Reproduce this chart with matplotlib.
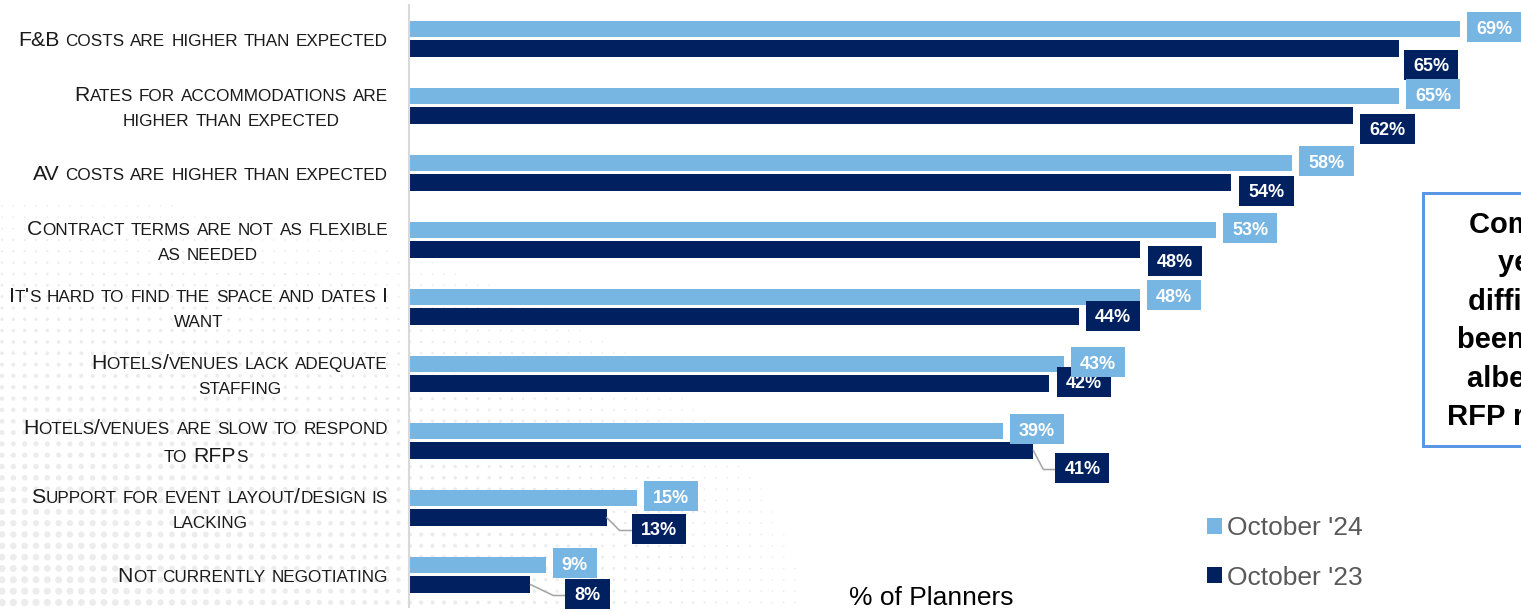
import math
import numpy as np
import matplotlib
matplotlib.use('Agg')
import matplotlib.pyplot as plt
from matplotlib.offsetbox import TextArea, HPacker, VPacker, AnnotationBbox
from matplotlib.patches import Rectangle, Patch
from matplotlib.path import Path

plt.rcParams['font.family'] = ['Liberation Sans', 'DejaVu Sans']

# data
categories = [
    'F&B costs are higher than expected',
    'Rates for accommodations are\nhigher than expected',
    'AV costs are higher than expected',
    'Contract terms are not as flexible\nas needed',
    "It's hard to find the space and dates I\nwant",
    'Hotels/venues lack adequate\nstaffing',
    'Hotels/venues are slow to respond\nto RFPs',
    'Support for event layout/design is\nlacking',
    'Not currently negotiating',
]
oct_24 = [69, 65, 58, 53, 48, 43, 39, 15, 9]
oct_23 = [65, 62, 54, 48, 44, 42, 41, 13, 8]
series_names = ["October '24", "October '23"]
xlabel = '% of Planners'
note_lines = ['Compared to last', 'year, negotiating', 'difficulties have',
              'been easing,', 'albeit with slower', 'RFP responses.']

# layout (pixels)
W, H = 1521, 612
PX = 72 / 100  # points per pixel
dark_label_shift = [(5, 18), (7, 15), (8, 10), (8, 13), (7, 1),
                    (8, 0), (22, 19), (25, 13), (35, 11)]
note_starts = [1469, 1498, 1468, 1457, 1467, 1447]

light = '#77B5E3'
dark = '#002060'

fig = plt.figure(figsize=(W / 100, H / 100), dpi=100)

# halftone dots in the background
bg = fig.add_axes([0, 0, 1, 1], zorder=-1)
bg.set_xlim(0, W)
bg.set_ylim(H, 0)
bg.axis('off')
gx, gy = np.meshgrid(np.arange(2, W, 11.33), np.arange(2, H, 11.33))
dsize = 7.5 * (1 - np.hypot(gx / 1000, (H - gy) / 520))
keep = dsize > 1.5
bg.scatter(gx[keep], gy[keep], s=(dsize[keep] * PX) ** 2, color='#ececec',
           linewidths=0)

left = 408.5
top, bottom = 5, 607
ax = fig.add_axes([left / W, 1 - bottom / H, 1 - left / W, (bottom - top) / H])
ax.set_facecolor('none')

n = len(categories)
pos = np.arange(n)
off = 0.1455
bh = 0.24
ax.barh(pos - off, oct_24, height=bh, color=light, zorder=2)
ax.barh(pos + off, oct_23, height=bh, color=dark, zorder=2)
ax.set_xlim(0, (W - left) / 15.24)
ax.set_ylim((bottom - 38.75) / 67, (top - 38.75) / 67)

for s in ['top', 'right', 'bottom']:
    ax.spines[s].set_visible(False)
ax.spines['left'].set_color('#D9D9D9')
ax.spines['left'].set_linewidth(1.5)
ax.set_xticks([])
ax.set_yticks([])


def label_box(x0, y0, width, height, mutation_size):
    cx = x0 + width / 2
    cy = y0 + height / 2 + 0.1 * mutation_size
    w = width + mutation_size
    h = 1.67 * mutation_size
    return Path([(cx - w / 2, cy - h / 2), (cx + w / 2, cy - h / 2),
                 (cx + w / 2, cy + h / 2), (cx - w / 2, cy + h / 2),
                 (cx - w / 2, cy - h / 2)], closed=True)


pad_px = 9
for i in range(n):
    ax.annotate(f'{oct_24[i]}%', xy=(oct_24[i], pos[i] - off),
                xytext=((7 + pad_px) * PX, 0), textcoords='offset points',
                ha='left', va='center', color='white', fontsize=13,
                fontweight='bold', zorder=6,
                bbox=dict(boxstyle=label_box, fc=light, ec='none'))

    gap, drop = dark_label_shift[i]
    arrow = None
    if gap > 15:
        ang = math.degrees(math.atan2(-drop, gap - 12))
        arrow = dict(arrowstyle='-', color='#A6A6A6', lw=1.6 * PX,
                     connectionstyle=f'angle,angleA=0,angleB={ang:.1f},rad=0',
                     shrinkA=0, shrinkB=0)
    ax.annotate(f'{oct_23[i]}%', xy=(oct_23[i], pos[i] + off),
                xytext=((gap + pad_px) * PX, -drop * PX),
                textcoords='offset points', ha='left', va='center',
                color='white', fontsize=13, fontweight='bold', zorder=5,
                bbox=dict(boxstyle=label_box, fc=dark, ec='none'),
                arrowprops=arrow)


# category labels in small caps
big, small = 15.3, 12.3


def small_caps_line(line):
    words = []
    for word in line.split(' '):
        runs = []
        for ch in word:
            size = small if ch.islower() else big
            if runs and runs[-1][1] == size:
                runs[-1][0] += ch.upper()
            else:
                runs.append([ch.upper(), size])
        parts = [TextArea(t, textprops=dict(fontsize=s, color='#1a1a1a'))
                 for t, s in runs]
        words.append(HPacker(children=parts, align='baseline', pad=0, sep=0))
    return HPacker(children=words, align='baseline', pad=0, sep=big * 0.278)


for i, cat in enumerate(categories):
    lines = [small_caps_line(l) for l in cat.split('\n')]
    block = VPacker(children=lines, align='center', pad=0, sep=6.5)
    ab = AnnotationBbox(block, (0, pos[i]), xycoords=ax.get_yaxis_transform(),
                        xybox=(-20.5 * PX, -1.5 * PX), boxcoords='offset points',
                        box_alignment=(1, 0.5), frameon=False, pad=0,
                        annotation_clip=False)
    ax.add_artist(ab)

# legend
handles = [Patch(facecolor=light), Patch(facecolor=dark)]
ax.legend(handles, series_names, loc='center left',
          bbox_to_anchor=(1207 / W, 1 - 553 / H), bbox_transform=fig.transFigure,
          frameon=False, fontsize=19, labelcolor='#595959', handlelength=0.57,
          handleheight=0.57, handletextpad=0.2, labelspacing=0.95,
          borderpad=0, borderaxespad=0)

# axis title
fig.text(931 / W, 1 - 605 / H, xlabel, ha='center', va='baseline',
         fontsize=19, color='black')

# call-out box, cut off by the right edge as in the source slide
fig.add_artist(Rectangle((1423 / W, 1 - 446 / H), 300 / W, (446 - 193) / H,
                         transform=fig.transFigure, facecolor='white',
                         edgecolor='#5B95E5', lw=3 * PX, zorder=3))
for k, (txt, x0) in enumerate(zip(note_lines, note_starts)):
    fig.text(x0 / W, 1 - (233 + 38.4 * k) / H, txt, ha='left', va='baseline',
             fontsize=21, fontweight='bold', color='black', zorder=4)

fig.savefig('out.png', dpi=100)
